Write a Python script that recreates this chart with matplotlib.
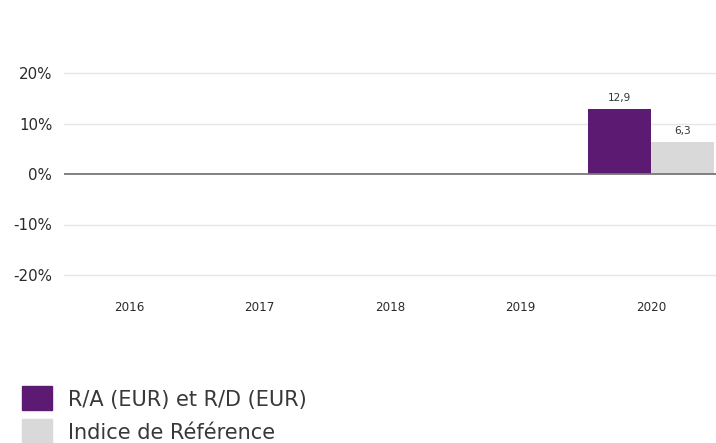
import matplotlib
matplotlib.use("Agg")
import matplotlib.pyplot as plt
from matplotlib.patches import Rectangle
import numpy as np

plt.rcParams['font.family'] = ['DejaVu Sans']

years = ["2016", "2017", "2018", "2019", "2020"]
fund = [None, None, None, None, 12.9]
index = [None, None, None, None, 6.3]
fund_label = "R/A (EUR) et R/D (EUR)"
index_label = "Indice de Référence"
yticks = [-20, -10, 0, 10, 20]

purple = "#5c1a72"
grey = "#d9d9d9"

W, H = 716, 443
fig = plt.figure(figsize=(W/100, H/100), dpi=100)
ax = fig.add_axes([64/W, 1-275/H, 652/W, 202/H])

x = np.arange(len(years))
bw = 0.485
for i in range(len(years)):
    if fund[i] is not None:
        ax.bar(x[i] - bw/2, fund[i], width=bw, color=purple, lw=0, zorder=3)
        ax.text(x[i] - bw/2, fund[i] + 1.2, f"{fund[i]:.1f}".replace(".", ","),
                ha="center", va="bottom", fontsize=7.6, color="#333333")
    if index[i] is not None:
        ax.bar(x[i] + bw/2, index[i], width=bw, color=grey, lw=0, zorder=3)
        ax.text(x[i] + bw/2, index[i] + 1.2, f"{index[i]:.1f}".replace(".", ","),
                ha="center", va="bottom", fontsize=7.6, color="#333333")

ax.set_xlim(-0.5, len(years) - 0.5)
ax.set_ylim(-20, 20)
ax.set_yticks(yticks)
ax.set_yticklabels([f"{v}%" for v in yticks])
ax.set_xticks(x)
ax.set_xticklabels(years)
for v in yticks:
    if v != 0:
        ax.axhline(v, color="#e6e6e6", lw=1, zorder=1, clip_on=False)
ax.axhline(0, color="#777777", lw=1.3, zorder=4)
for s in ax.spines.values():
    s.set_visible(False)
ax.tick_params(axis="y", length=0, pad=8.5, labelsize=10.8, labelcolor="#2a2a2a")
ax.tick_params(axis="x", length=0, pad=19, labelsize=8.6, labelcolor="#2a2a2a")

# legend
fig.patches.append(Rectangle((22/W, 1-410/H), 30/W, 24/H, transform=fig.transFigure,
                             color=purple, figure=fig))
fig.patches.append(Rectangle((22/W, 1-443/H), 30/W, 24/H, transform=fig.transFigure,
                             color=grey, figure=fig))
fig.text(68/W, 1-400/H, fund_label, fontsize=15, va="center", ha="left", color="#383838")
fig.text(68/W, 1-433/H, index_label, fontsize=15, va="center", ha="left", color="#383838")

fig.savefig("out.png", dpi=100)
